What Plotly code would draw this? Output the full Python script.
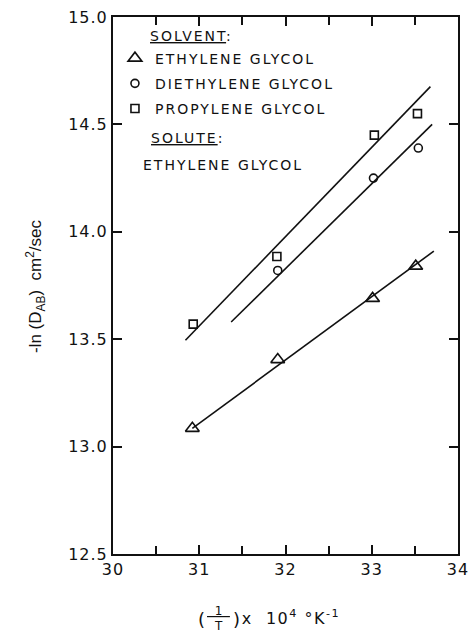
import plotly.graph_objects as go

# ---- data ----
solvents = ["ETHYLENE GLYCOL", "DIETHYLENE GLYCOL", "PROPYLENE GLYCOL"]
symbols = ["triangle-up-open", "circle-open", "square-open"]

eg_x = [30.92, 31.91, 33.01, 33.51]
eg_y = [13.085, 13.405, 13.69, 13.84]

deg_x = [31.91, 33.02, 33.54]
deg_y = [13.82, 14.25, 14.39]

pg_x = [30.93, 31.90, 33.03, 33.53]
pg_y = [13.57, 13.885, 14.45, 14.55]

# fitted straight lines (end points)
eg_fit_x = [30.92, 33.72]
eg_fit_y = [13.085, 13.91]
deg_fit_x = [31.37, 33.70]
deg_fit_y = [13.58, 14.50]
pg_fit_x = [30.84, 33.68]
pg_fit_y = [13.495, 14.676]

x_ticks = [30, 31, 32, 33, 34]
y_ticks = [12.5, 13.0, 13.5, 14.0, 14.5, 15.0]

FONT = "DejaVu Sans"
BLACK = "#111111"

fig = go.Figure()

for fx, fy in [(eg_fit_x, eg_fit_y), (deg_fit_x, deg_fit_y), (pg_fit_x, pg_fit_y)]:
    fig.add_trace(go.Scatter(x=fx, y=fy, mode="lines",
                             line=dict(color=BLACK, width=1.6),
                             showlegend=False, hoverinfo="skip"))

sizes = [12, 8, 8]
for name, sym, sz, (px, py) in zip(solvents, symbols, sizes,
                                   [(eg_x, eg_y), (deg_x, deg_y), (pg_x, pg_y)]):
    fig.add_trace(go.Scatter(x=px, y=py, mode="markers", name=name,
                             legendgroup=name,
                             marker=dict(symbol=sym, size=sz, color=BLACK,
                                         line=dict(width=1.6, color=BLACK)),
                             cliponaxis=False))

axis_common = dict(
    showgrid=False, zeroline=False, showline=True, linecolor=BLACK, linewidth=2,
    mirror="ticks", ticks="inside", tickcolor=BLACK, tickwidth=1.5, ticklen=9,
    tickfont=dict(family=FONT, size=16, color=BLACK),
)

fig.update_xaxes(range=[30, 34], tickvals=x_ticks,
                 ticktext=[str(v) for v in x_ticks],
                 minor=dict(dtick=0.5, ticks="inside", ticklen=8,
                            tickcolor=BLACK, tickwidth=1.5, showgrid=False),
                 **axis_common)
fig.update_yaxes(range=[12.5, 15.0], tickvals=y_ticks,
                 ticktext=[f"{v:.1f}" for v in y_ticks],
                 **axis_common)

ML, MR, MT, MB = 113, 11, 8, 79
W0, W = float(ML), 476.0 - ML - MR
H0, H = 633.0 - MB, 633.0 - MT - MB


def px2paper(px, py):
    return (px - W0) / W, (H0 - py) / H


ann_font = dict(family=FONT, size=14, color=BLACK)
annotations = []
for text, x, y in [("<u>SOLVENT</u>:", 157, 27),
                   ("<u>SOLUTE</u>:", 157, 131),
                   ("ETHYLENE GLYCOL", 157, 158)]:
    xp, yp = px2paper(x, y)
    annotations.append(dict(text=text, x=xp, y=yp, xref="paper",
                            yref="paper", xanchor="left", yanchor="middle",
                            showarrow=False, font=ann_font))

# y-axis title
xp, yp = px2paper(34, 282)
annotations.append(dict(text="-ln (D<sub>AB</sub>)  cm<sup>2</sup>/sec",
                        x=xp, y=yp, xref="paper", yref="paper", textangle=-90,
                        showarrow=False, xanchor="center", yanchor="middle",
                        font=dict(family="Liberation Sans", size=17, color=BLACK)))

# x-axis title: ( 1/T ) x 10^4 °K^-1
tfont = dict(family=FONT, size=16, color=BLACK)
for text, x, y, fnt, anchor in [
    ("(", 203, 621, dict(family=FONT, size=18, color=BLACK), "center"),
    (")", 239, 621, dict(family=FONT, size=18, color=BLACK), "center"),
    ("<u>\u00a0\u00a01\u00a0\u00a0</u>", 221, 612, dict(family=FONT, size=12, color=BLACK), "center"),
    ("T", 221, 627, dict(family=FONT, size=12, color=BLACK), "center"),
    ("x  10<sup>4</sup> \u00b0K<sup>-1</sup>", 251, 619, tfont, "left"),
]:
    xp, yp = px2paper(x, y)
    annotations.append(dict(text=text, x=xp, y=yp, xref="paper", yref="paper",
                            xanchor=anchor, yanchor="middle", showarrow=False,
                            font=fnt))

fig.update_layout(
    width=476, height=633,
    margin=dict(l=ML, r=MR, t=MT, b=MB),
    paper_bgcolor="white", plot_bgcolor="white",
    annotations=annotations,
    showlegend=True,
    legend=dict(x=px2paper(115, 0)[0], y=px2paper(0, 34)[1],
                xanchor="left", yanchor="top",
                bgcolor="rgba(0,0,0,0)", borderwidth=0,
                font=dict(family=FONT, size=14, color=BLACK),
                tracegroupgap=4, itemsizing="trace"),
)

post = """
document.body.style.margin='0';
document.body.style.padding='0';
document.body.style.overflow='hidden';
var st=document.createElement('style');
st.innerHTML='.legendtext{letter-spacing:2px} '
 + '.annotation[data-index="0"] text, .annotation[data-index="1"] text, .annotation[data-index="2"] text{letter-spacing:2px} '
 + '.annotation[data-index="8"] text{letter-spacing:1.5px} '
 + '.xtick text, .ytick text{letter-spacing:1px}';
document.head.appendChild(st);
document.querySelectorAll('.legend [clip-path]').forEach(function(e){e.removeAttribute('clip-path');});
"""

fig.write_html("out.html", post_script=post, config={"displayModeBar": False})
